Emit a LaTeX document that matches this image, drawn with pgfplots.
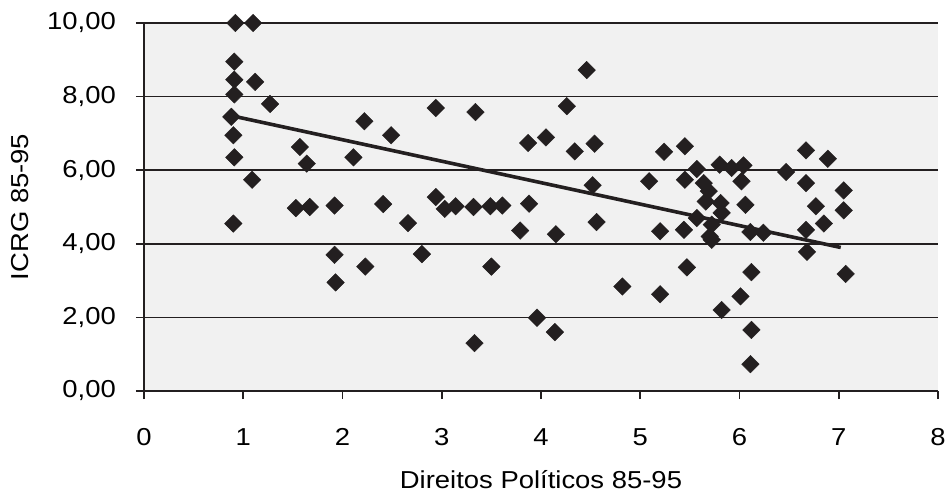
\documentclass[border=0pt]{standalone}
\usepackage{pgfplots}
\pgfplotsset{compat=1.18}
\usepackage{fontspec}
\setmainfont{Liberation Sans}[FakeStretch=1.12]
\definecolor{ink}{HTML}{231F20}
\definecolor{plotbg}{HTML}{F1F1F1}
\begin{document}
\fontsize{24.5}{28}\selectfont
\begin{tikzpicture}
\begin{axis}[
  scale only axis, width=794pt, height=368pt,
  xmin=0, xmax=8, ymin=0, ymax=10,
  xtick={0,1,...,8}, ytick={0,2,...,10},
  axis x line*=bottom, axis y line*=left,
  axis line style={-, line width=1.6pt, ink},
  tick align=outside, major tick length=8pt,
  tick style={line width=1.6pt, ink},
  ymajorgrids, grid style={line width=1.6pt, ink},
  axis background/.style={fill=plotbg},
  clip=false,
  /pgf/number format/assume math mode=true,
  yticklabel style={/pgf/number format/.cd, fixed, fixed zerofill, precision=2, use comma, /tikz/.cd, anchor=east, inner sep=0pt, xshift=-20pt},
  xticklabel style={anchor=center, inner sep=0pt, yshift=-38pt},
  xlabel={Direitos Políticos 85-95},
  ylabel={ICRG 85-95},
  every axis x label/.style={at={(rel axis cs:0.5,0)}, anchor=center, yshift=-89pt},
  every axis y label/.style={at={(rel axis cs:0,0.5)}, xshift=-124pt, rotate=90, anchor=center},
]
\coordinate (bl) at (rel axis cs:0,0);
\addplot[only marks, mark=square*, mark size=6.2pt, mark options={rotate=45, fill=ink, draw=ink}] coordinates {
(0.92,10.0) (1.10,10.0) (0.91,8.95) (0.91,8.46) (1.12,8.40) (0.91,8.06) (1.27,7.80) (0.88,7.45) (0.90,6.95) (0.91,6.35)
(1.57,6.63) (1.64,6.18) (1.09,5.74) (0.90,4.55) (1.53,4.97) (1.67,5.00) (1.92,5.04) (1.92,3.70) (1.93,2.95)
(2.22,7.33) (2.94,7.69) (3.34,7.58) (2.49,6.95) (2.11,6.35) (3.87,6.74) (4.05,6.89) (2.41,5.08) (2.94,5.27) (3.03,4.95)
(3.14,5.02) (3.32,5.00) (3.49,5.02) (3.61,5.04) (3.88,5.09) (2.66,4.56) (3.79,4.36) (2.23,3.38) (2.80,3.72) (3.50,3.38)
(3.96,1.99) (3.33,1.30)
(4.46,8.72) (4.26,7.74) (4.34,6.51) (4.54,6.72) (5.24,6.50) (5.45,6.65) (5.57,6.03) (5.80,6.15) (5.09,5.70) (5.45,5.74)
(4.52,5.59) (5.64,5.65) (5.69,5.43) (5.66,5.15) (5.81,5.11) (4.56,4.59) (4.15,4.26) (5.20,4.34) (5.44,4.38) (5.57,4.70)
(5.72,4.52) (5.70,4.20) (5.72,4.11) (5.82,4.84) (4.82,2.84) (5.20,2.63) (5.47,3.36) (4.14,1.60) (5.82,2.20)
(5.92,6.06) (6.04,6.13) (6.02,5.70) (6.06,5.06) (6.11,4.32) (6.24,4.30) (6.47,5.95) (6.67,6.54) (6.89,6.31) (6.67,5.65)
(7.05,5.45) (6.77,5.02) (7.05,4.91) (6.85,4.55) (6.67,4.38) (6.68,3.78) (6.12,3.23) (6.01,2.57) (6.12,1.66) (6.11,0.73)
(7.07,3.18)
};
\addplot[ink, line width=3.6pt, no marks] coordinates {(0.95,7.44) (7.02,3.90)};
\end{axis}
\pgfresetboundingbox
\path[use as bounding box] (bl) ++(-144pt,-106pt) rectangle ++(947pt,497pt);
\end{tikzpicture}
\end{document}
